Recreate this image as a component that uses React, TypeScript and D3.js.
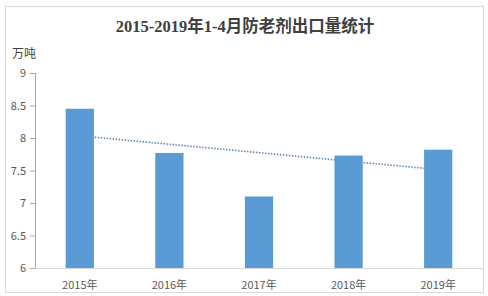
import React from "react";
import * as d3 from "d3";

const categories = ["2015年", "2016年", "2017年", "2018年", "2019年"];
const values = [8.45, 7.77, 7.1, 7.73, 7.82];
const yTicks = [6, 6.5, 7, 7.5, 8, 8.5, 9];
const title = "2015-2019年1-4月防老剂出口量统计";
const unit = "万吨";

export default function App() {
  const W = 488, H = 296;
  const left = 35, right = 483, top = 73, bottom = 268;
  const x = d3.scaleBand<string>().domain(categories).range([left, right]).paddingInner(0.685).paddingOuter(0.3425);
  const y = d3.scaleLinear().domain([6, 9]).range([bottom, top]);

  // linear trend (least squares)
  const n = values.length;
  const xs = values.map((_, i) => i + 1);
  const mx = d3.mean(xs)!, my = d3.mean(values)!;
  const slope = d3.sum(xs.map((xi, i) => (xi - mx) * (values[i] - my))) / d3.sum(xs.map(xi => (xi - mx) ** 2));
  const icpt = my - slope * mx;
  const cx = (c: string) => x(c)! + x.bandwidth() / 2;
  const trend = d3.line<number>()
    .x((_, i) => cx(categories[i]))
    .y((xi) => y(icpt + slope * xi))(xs);

  const fontTxt = "'Microsoft YaHei', 'Noto Sans CJK SC', sans-serif";

  return (
    <svg width={W} height={H} style={{ position: "absolute", left: 0, top: 0 }}>
      <rect x={0} y={0} width={W} height={H} fill="#fff" />
      <rect x={5.5} y={6.5} width={478} height={286} fill="#fff" stroke="#d9d9d9" strokeWidth={1} />
      <text x={245} y={32} textAnchor="middle" fontSize={16.5} fontWeight="bold" fill="#404040"
        fontFamily="'Liberation Serif', 'Noto Sans CJK SC', serif">{title}</text>
      <text x={12} y={58} fontSize={12} fill="#404040" fontFamily={fontTxt}>{unit}</text>

      {/* axes */}
      <line x1={left + 0.5} x2={left + 0.5} y1={top} y2={bottom} stroke="#a6a6a6" />
      {yTicks.map(t => (
        <g key={t}>
          <line x1={left - 5} x2={left} y1={y(t) + 0.5} y2={y(t) + 0.5} stroke="#a6a6a6" />
          <text x={left - 9} y={y(t) + 4} textAnchor="end" fontSize={11} fill="#595959" fontFamily={fontTxt}>{t}</text>
        </g>
      ))}

      <path d={trend!} fill="none" stroke="#5b7fa8" strokeWidth={1.6} strokeDasharray="1.4 1.6" />

      {values.map((v, i) => (
        <rect key={categories[i]} x={x(categories[i])} y={y(v)} width={x.bandwidth()} height={y(6) - y(v)} fill="#5b9bd5" />
      ))}

      <line x1={left} x2={right} y1={bottom + 0.5} y2={bottom + 0.5} stroke="#d9d9d9" />
      {categories.map(c => (
        <text key={c} x={cx(c)} y={bottom + 21} textAnchor="middle" fontSize={11} fill="#595959" fontFamily={fontTxt}>{c}</text>
      ))}
    </svg>
  );
}
